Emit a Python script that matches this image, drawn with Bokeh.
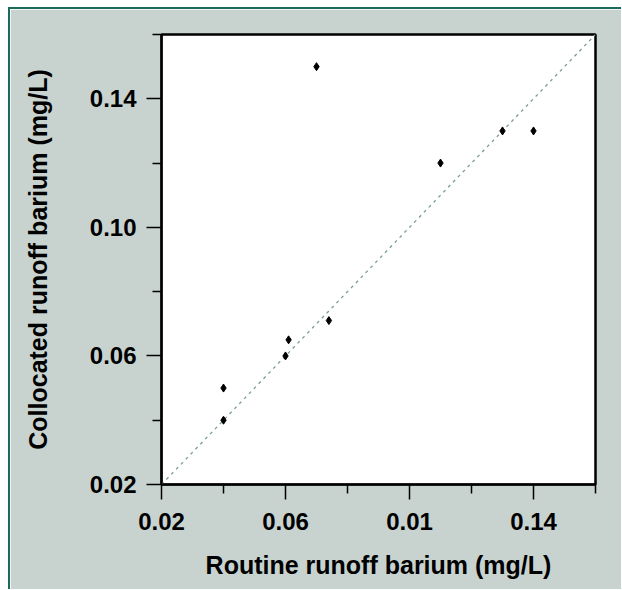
from bokeh.plotting import figure
from bokeh.models import FixedTicker, Range1d
from bokeh.embed import file_html
from bokeh.resources import INLINE

# Data
routine = [0.07, 0.11, 0.13, 0.14, 0.04, 0.04, 0.06, 0.061, 0.074]
collocated = [0.15, 0.12, 0.13, 0.13, 0.05, 0.04, 0.06, 0.065, 0.071]

major_ticks = [0.02, 0.06, 0.10, 0.14]
minor_ticks = [0.04, 0.08, 0.12, 0.16]
x_tick_labels = ["0.02", "0.06", "0.01", "0.14"]
y_tick_labels = ["0.02", "0.06", "0.10", "0.14"]
line_ends = [0.02, 0.16]

BG = "#c8d3cf"
TEAL = "#1b6b5c"
FONT = "Liberation Sans"

p = figure(width=611, height=580, output_backend="svg", toolbar_location=None,
           x_range=Range1d(0.02, 0.16), y_range=Range1d(0.02, 0.16),
           min_border_left=151, min_border_top=25,
           min_border_right=26, min_border_bottom=105,
           frame_width=434, frame_height=450)

p.background_fill_color = "white"
p.border_fill_color = BG
p.outline_line_color = "black"
p.outline_line_width = 2.5
p.grid.visible = False
p.styles = {"margin-left": "8px", "margin-top": "7px",
            "border-left": "2px solid " + TEAL, "border-top": "2px solid " + TEAL}

p.line(line_ends, line_ends, line_color="#7a9c95", line_width=1.3, line_dash="3 4")
p.scatter(routine, collocated, marker="diamond", size=8, fill_color="black", line_color="black")

for ax, labels in ((p.xaxis[0], x_tick_labels), (p.yaxis[0], y_tick_labels)):
    ax.ticker = FixedTicker(ticks=major_ticks, minor_ticks=minor_ticks)
    ax.major_label_overrides = {t: l for t, l in zip(major_ticks, labels)}
    ax.axis_line_color = "black"
    ax.axis_line_width = 2
    ax.major_tick_line_color = "black"
    ax.major_tick_line_width = 1.5
    ax.minor_tick_line_color = "black"
    ax.minor_tick_line_width = 1.5
    ax.major_tick_in = 0
    ax.minor_tick_in = 0
    ax.major_tick_out = 15
    ax.minor_tick_out = 9
    ax.major_label_text_font = FONT
    ax.major_label_text_font_style = "bold"
    ax.major_label_text_font_size = "24px"
    ax.major_label_text_color = "black"
    ax.axis_label_text_font = FONT
    ax.axis_label_text_font_style = "bold"
    ax.axis_label_text_font_size = "25px"
    ax.axis_label_text_color = "black"

p.xaxis.axis_label = "Routine runoff barium (mg/L)"
p.yaxis.axis_label = "Collocated runoff barium (mg/L)"
p.xaxis.major_label_standoff = 13
p.yaxis.major_label_standoff = 10
p.xaxis.axis_label_standoff = 18
p.yaxis.axis_label_standoff = 35

open("out.html", "w").write(file_html(p, INLINE))
